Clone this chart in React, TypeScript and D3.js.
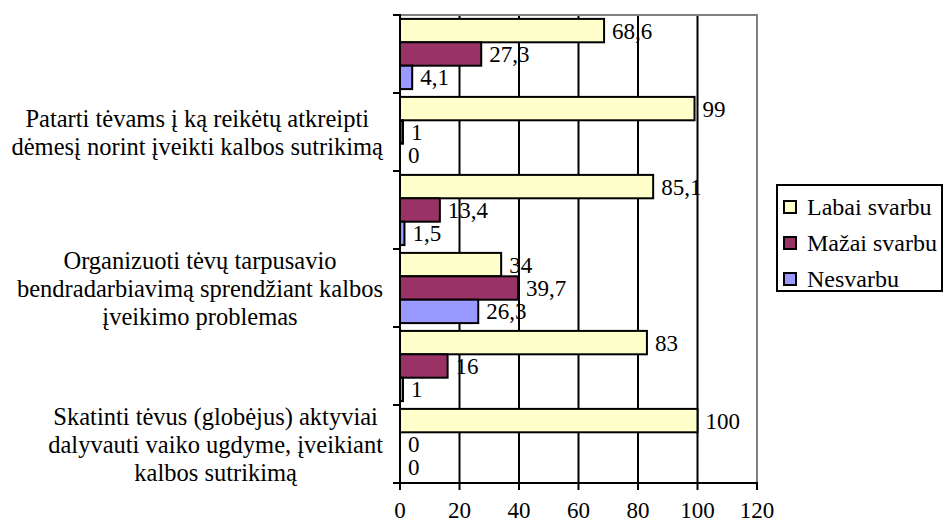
import React, { useEffect, useRef } from 'react';
import * as d3 from 'd3';

// categories from top to bottom; Excel only printed every second label
const categoryIds = ['c1', 'c2', 'c3', 'c4', 'c5', 'c6'];
const categoryLabels = [
  [],
  ['Patarti tėvams į ką reikėtų atkreipti', 'dėmesį norint įveikti kalbos sutrikimą'],
  [],
  ['Organizuoti tėvų tarpusavio', 'bendradarbiavimą sprendžiant kalbos', 'įveikimo problemas'],
  [],
  ['Skatinti tėvus (globėjus) aktyviai', 'dalyvauti vaiko ugdyme, įveikiant', 'kalbos sutrikimą'],
];

const seriesNames = ['Labai svarbu', 'Mažai svarbu', 'Nesvarbu'];
const labaiSvarbu = [68.6, 99, 85.1, 34, 83, 100];
const mazaiSvarbu = [27.3, 1, 13.4, 39.7, 16, 0];
const nesvarbu = [4.1, 0, 1.5, 26.3, 1, 0];
const seriesColors = ['#FFFFCC', '#993366', '#9999FF'];
const xTicks = [0, 20, 40, 60, 80, 100, 120];

const App = () => {
  const ref = useRef<SVGSVGElement | null>(null);

  useEffect(() => {
    const width = 943;
    const height = 526;
    const plot = { left: 400, right: 757, top: 15, bottom: 483 };

    const svg = d3.select(ref.current);
    svg.selectAll('*').remove();
    svg.attr('width', width).attr('height', height)
      .attr('font-family', 'Liberation Serif, Times New Roman, DejaVu Serif, serif');

    const series = [labaiSvarbu, mazaiSvarbu, nesvarbu];

    const x = d3.scaleLinear().domain([0, 120]).range([plot.left, plot.right]);
    const y = d3.scaleBand<string>()
      .domain(categoryIds)
      .range([plot.top, plot.bottom])
      .paddingInner(0.1)
      .paddingOuter(0.05);
    const ySub = d3.scaleBand<number>()
      .domain([0, 1, 2])
      .range([0, y.bandwidth()]);

    // gridlines
    svg.append('g')
      .selectAll('line')
      .data(xTicks.filter(t => t > 0 && t < 120))
      .enter()
      .append('line')
      .attr('x1', d => x(d)).attr('x2', d => x(d))
      .attr('y1', plot.top).attr('y2', plot.bottom)
      .attr('stroke', '#000').attr('stroke-width', 2);

    // gray plot border (top + right)
    svg.append('path')
      .attr('d', `M${plot.left},${plot.top}H${plot.right}V${plot.bottom}`)
      .attr('fill', 'none')
      .attr('stroke', '#808080')
      .attr('stroke-width', 2);

    // bars
    const groups = svg.append('g')
      .selectAll('g')
      .data(categoryIds)
      .enter()
      .append('g')
      .attr('transform', d => `translate(0, ${y(d)})`);

    groups.each(function (_, i) {
      const g = d3.select(this);
      series.forEach((vals, s) => {
        const v = vals[i];
        if (v > 0) {
          g.append('rect')
            .attr('x', x(0))
            .attr('y', ySub(s)!)
            .attr('width', x(v) - x(0))
            .attr('height', ySub.bandwidth())
            .attr('fill', seriesColors[s])
            .attr('stroke', '#000')
            .attr('stroke-width', 2);
        }
        g.append('text')
          .attr('x', x(v) + 8)
          .attr('y', ySub(s)! + ySub.bandwidth() / 2)
          .attr('dy', '0.35em')
          .attr('font-size', 23)
          .text(String(v).replace('.', ','));
      });
    });

    // axes
    svg.append('line')
      .attr('x1', plot.left).attr('x2', plot.left)
      .attr('y1', plot.top - 1).attr('y2', plot.bottom)
      .attr('stroke', '#000').attr('stroke-width', 2);
    svg.append('line')
      .attr('x1', plot.left - 7).attr('x2', plot.right + 1)
      .attr('y1', plot.bottom).attr('y2', plot.bottom)
      .attr('stroke', '#000').attr('stroke-width', 2);

    // category ticks
    const catEdges = categoryIds.map(c => y(c)! - (y.step() - y.bandwidth()) / 2).concat([plot.bottom]);
    svg.append('g')
      .selectAll('line')
      .data(catEdges)
      .enter()
      .append('line')
      .attr('x1', plot.left - 7).attr('x2', plot.left)
      .attr('y1', d => d).attr('y2', d => d)
      .attr('stroke', '#000').attr('stroke-width', 2);

    // value ticks + labels
    svg.append('g')
      .selectAll('line')
      .data(xTicks)
      .enter()
      .append('line')
      .attr('x1', d => x(d)).attr('x2', d => x(d))
      .attr('y1', plot.bottom).attr('y2', plot.bottom + 7)
      .attr('stroke', '#000').attr('stroke-width', 2);
    svg.append('g')
      .selectAll('text')
      .data(xTicks)
      .enter()
      .append('text')
      .attr('x', d => x(d))
      .attr('y', 518)
      .attr('text-anchor', 'middle')
      .attr('font-size', 23)
      .text(d => d);

    // category labels
    const lineH = 28;
    categoryIds.forEach((c, i) => {
      const lines = categoryLabels[i];
      if (!lines.length) return;
      const cy = y(c)! + y.bandwidth() / 2;
      const t = svg.append('text')
        .attr('font-size', 24.5)
        .attr('text-anchor', 'middle');
      const spans = lines.map((ln, k) =>
        t.append('tspan')
          .attr('y', cy + (k - (lines.length - 1) / 2) * lineH)
          .attr('dy', '0.35em')
          .text(ln)
      );
      const maxW = d3.max(spans, s => (s.node() as SVGTSpanElement).getComputedTextLength()) || 0;
      const cx = 383 - maxW / 2;
      spans.forEach(s => s.attr('x', cx));
    });

    // legend
    const legend = svg.append('g').attr('transform', 'translate(777, 185)');
    legend.append('rect')
      .attr('width', 165).attr('height', 106)
      .attr('fill', '#fff')
      .attr('stroke', '#000')
      .attr('stroke-width', 2);
    seriesNames.forEach((name, s) => {
      const ly = 22 + s * 36;
      legend.append('rect')
        .attr('x', 7).attr('y', ly - 6)
        .attr('width', 12).attr('height', 12)
        .attr('fill', seriesColors[s])
        .attr('stroke', '#000')
        .attr('stroke-width', 2);
      legend.append('text')
        .attr('x', 30).attr('y', ly)
        .attr('dy', '0.35em')
        .attr('font-size', 24)
        .text(name);
    });
  }, []);

  return (
    <svg ref={ref} style={{ position: 'absolute', left: 0, top: 0 }}></svg>
  );
};

export default App;
